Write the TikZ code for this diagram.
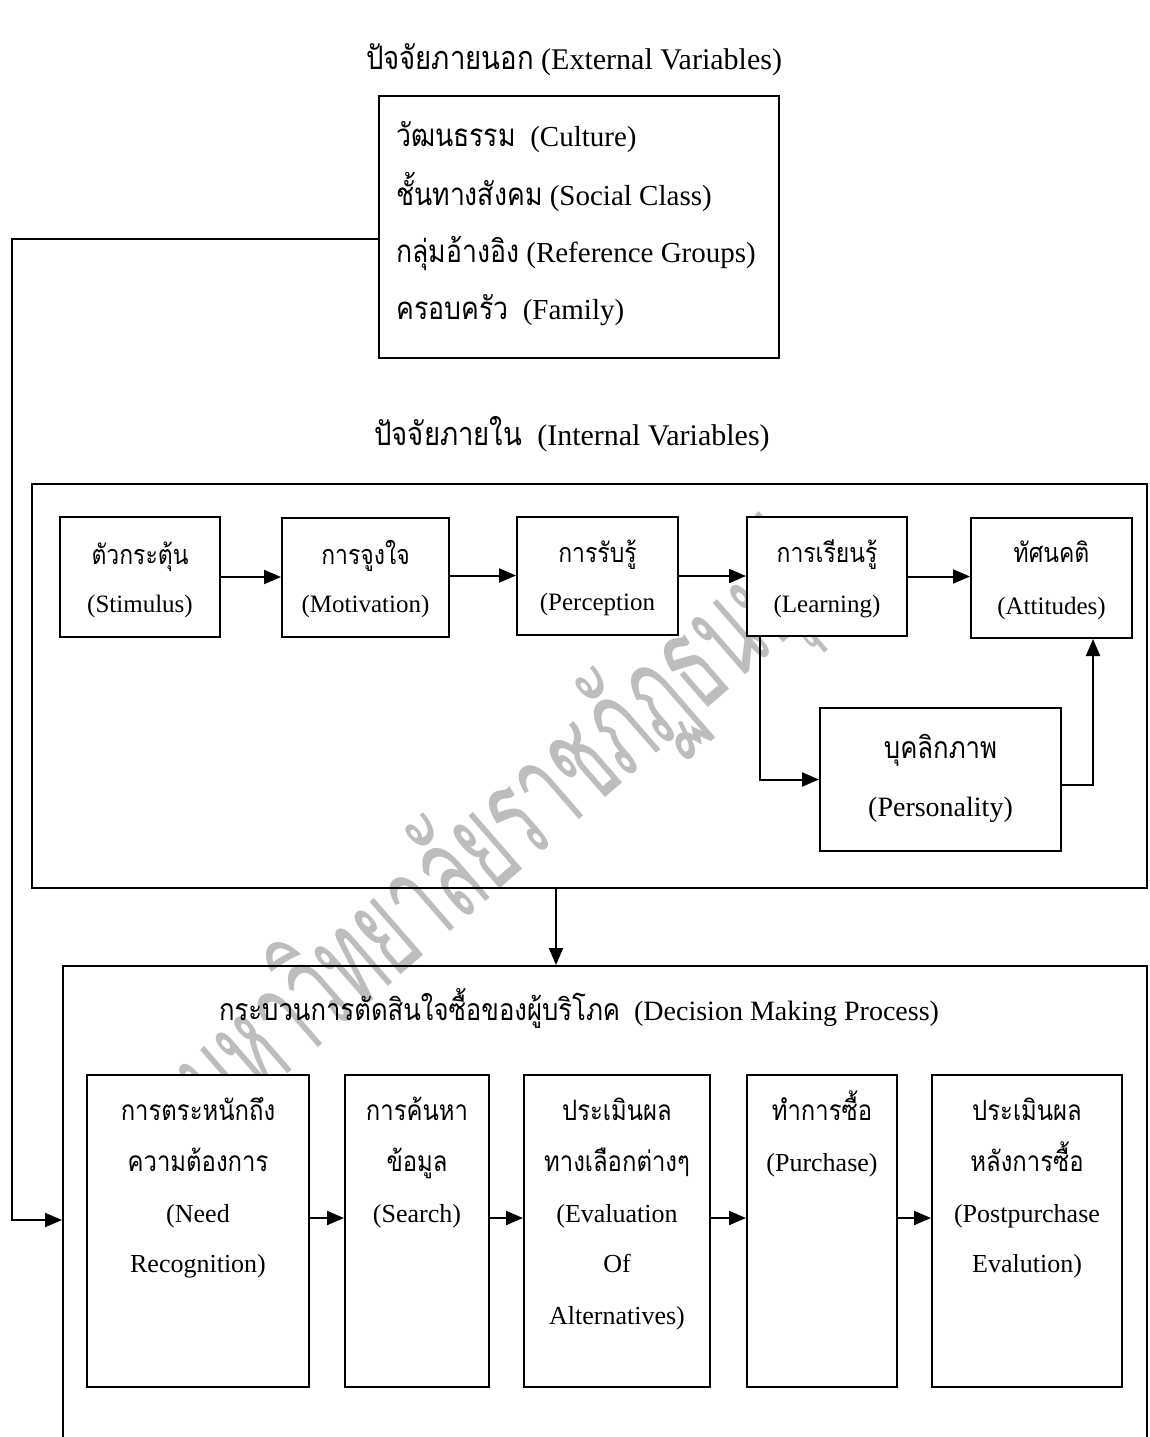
\documentclass[tikz,border=0pt]{standalone}
\usepackage{fontspec}
\setmainfont{Liberation Serif}
\newfontfamily\thaifont[Script=Thai,FakeStretch=0.85,Scale=1.08]{Loma}
\newfontfamily\wmfont[Script=Thai,FakeStretch=0.55]{Loma}
\usetikzlibrary{arrows.meta}
\newcommand{\thtxt}[1]{{\thaifont #1}}
\begin{document}
\begin{tikzpicture}[x=1pt,y=-1pt,
  bx/.style={draw,line width=2pt,fill=white,inner sep=0pt},
  frame/.style={draw,line width=2pt,inner sep=0pt},
  arr/.style={line width=2pt,-{Triangle[length=17pt,width=14pt]}},
  txt/.style={inner sep=0pt, text height=0.7em, text depth=0.2em},
  ttl/.style={txt, font=\fontsize{30}{36}\selectfont, anchor=base},
  dttl/.style={txt, font=\fontsize{28}{34}\selectfont, anchor=base},
  extl/.style={txt, font=\fontsize{29}{35}\selectfont, anchor=base west},
  sm/.style={txt, font=\fontsize{25}{30}\selectfont, anchor=base},
  md/.style={txt, font=\fontsize{28}{34}\selectfont, anchor=base},
  dl/.style={txt, font=\fontsize{26}{32}\selectfont, anchor=base},
  wm/.style={font=\wmfont\fontsize{135}{145}\selectfont, text=black!26, inner sep=0pt}]
\useasboundingbox (0,0) rectangle (1150,1437);
\clip (0,0) rectangle (1150,1437);
\fill[white] (0,0) rectangle (1150,1437);

% watermark
\node[wm, rotate=41] (wmark) at (505,832) {มหาวิทยาลัยราชภัฏธนบุรี};

% external variables
\node[ttl] (t1) at (574,70) {\thtxt{ปัจจัยภายนอก} (External Variables)};
\node[bx, minimum width=400pt, minimum height=262pt] (ext) at (579,227) {};
\node[extl] (e1) at (396,146) {\thtxt{วัฒนธรรม}\ \ (Culture)};
\node[extl] (e2) at (396,205) {\thtxt{ชั้นทางสังคม} (Social Class)};
\node[extl] (e3) at (396,262) {\thtxt{กลุ่มอ้างอิง} (Reference Groups)};
\node[extl] (e4) at (396,319) {\thtxt{ครอบครัว}\ \ (Family)};

% internal variables
\node[ttl] (t2) at (572,445) {\thtxt{ปัจจัยภายใน}\ \ (Internal Variables)};
\node[frame, minimum width=1115pt, minimum height=404pt] (int) at (589.5,686) {};

\node[bx, minimum width=160pt, minimum height=120pt] (stim) at (140,577) {};
\node[bx, minimum width=167pt, minimum height=119pt] (motiv) at (365.5,577.5) {};
\node[bx, minimum width=161pt, minimum height=118pt] (perc) at (597.5,576) {};
\node[bx, minimum width=160pt, minimum height=119pt] (learn) at (827,576.5) {};
\node[bx, minimum width=161pt, minimum height=120pt] (att) at (1051.5,578) {};
\node[bx, minimum width=241pt, minimum height=143pt] (pers) at (940.5,779.5) {};

\node[sm] (stim1) at (140,564) {\thtxt{ตัวกระตุ้น}};
\node[sm] (stim2) at (140,612) {(Stimulus)};
\node[sm] (motiv1) at (365.5,564) {\thtxt{การจูงใจ}};
\node[sm] (motiv2) at (365.5,612) {(Motivation)};
\node[sm] (perc1) at (597.5,562) {\thtxt{การรับรู้}};
\node[sm] (perc2) at (597.5,610) {(Perception};
\node[sm] (learn1) at (827,562) {\thtxt{การเรียนรู้}};
\node[sm] (learn2) at (827,612) {(Learning)};
\node[sm] (att1) at (1051.5,562) {\thtxt{ทัศนคติ}};
\node[sm] (att2) at (1051.5,614) {(Attitudes)};
\node[md] (pers1) at (940.5,758) {\thtxt{บุคลิกภาพ}};
\node[md] (pers2) at (940.5,816) {(Personality)};

\draw[arr] (stim.east) -- (stim.east -| motiv.west);
\draw[arr] ([yshift=2pt]motiv.east) -- ([yshift=2pt]motiv.east -| perc.west);
\draw[arr] (perc.east) -- (perc.east -| learn.west);
\draw[arr] (learn.east) -- (learn.east -| att.west);
\draw[arr] ([xshift=14pt]learn.south west) |- (pers.west);
\draw[arr] ([yshift=-5pt]pers.east) -| ([xshift=41.5pt]att.south);

% decision making process
\node[frame, minimum width=1084pt, minimum height=534pt] (dec) at (605,1233) {};
\draw[arr] ([xshift=-33.5pt]int.south) -- ([xshift=-33.5pt]int.south |- dec.north);
\node[dttl] (t3) at (579,1020) {\thtxt{กระบวนการตัดสินใจซื้อของผู้บริโภค}\ \ (Decision Making Process)};

\coordinate (corner) at (12,239);
\draw[arr] ([yshift=-12pt]ext.west) -- (corner) |- ([yshift=13pt]dec.west);

\node[bx, minimum width=222pt, minimum height=312pt] (d1) at (198,1231) {};
\node[bx, minimum width=144pt, minimum height=312pt] (d2) at (417,1231) {};
\node[bx, minimum width=186pt, minimum height=312pt] (d3) at (617,1231) {};
\node[bx, minimum width=150pt, minimum height=312pt] (d4) at (822,1231) {};
\node[bx, minimum width=190pt, minimum height=312pt] (d5) at (1027,1231) {};

\draw[arr] ([yshift=13pt]d1.east) -- ([yshift=13pt]d2.west);
\draw[arr] ([yshift=13pt]d2.east) -- ([yshift=13pt]d3.west);
\draw[arr] ([yshift=13pt]d3.east) -- ([yshift=13pt]d4.west);
\draw[arr] ([yshift=13pt]d4.east) -- ([yshift=13pt]d5.west);

\node[dl] (d1a) at (198,1120) {\thtxt{การตระหนักถึง}};
\node[dl] (d1b) at (198,1171) {\thtxt{ความต้องการ}};
\node[dl] (d1c) at (198,1222) {(Need};
\node[dl] (d1d) at (198,1272) {Recognition)};
\node[dl] (d2a) at (417,1120) {\thtxt{การค้นหา}};
\node[dl] (d2b) at (417,1171) {\thtxt{ข้อมูล}};
\node[dl] (d2c) at (417,1222) {(Search)};
\node[dl] (d3a) at (617,1120) {\thtxt{ประเมินผล}};
\node[dl] (d3b) at (617,1171) {\thtxt{ทางเลือกต่างๆ}};
\node[dl] (d3c) at (617,1222) {(Evaluation};
\node[dl] (d3d) at (617,1272) {Of};
\node[dl] (d3e) at (617,1324) {Alternatives)};
\node[dl] (d4a) at (822,1120) {\thtxt{ทำการซื้อ}};
\node[dl] (d4b) at (822,1171) {(Purchase)};
\node[dl] (d5a) at (1027,1120) {\thtxt{ประเมินผล}};
\node[dl] (d5b) at (1027,1171) {\thtxt{หลังการซื้อ}};
\node[dl] (d5c) at (1027,1222) {(Postpurchase};
\node[dl] (d5d) at (1027,1272) {Evalution)};
\end{tikzpicture}
\end{document}
